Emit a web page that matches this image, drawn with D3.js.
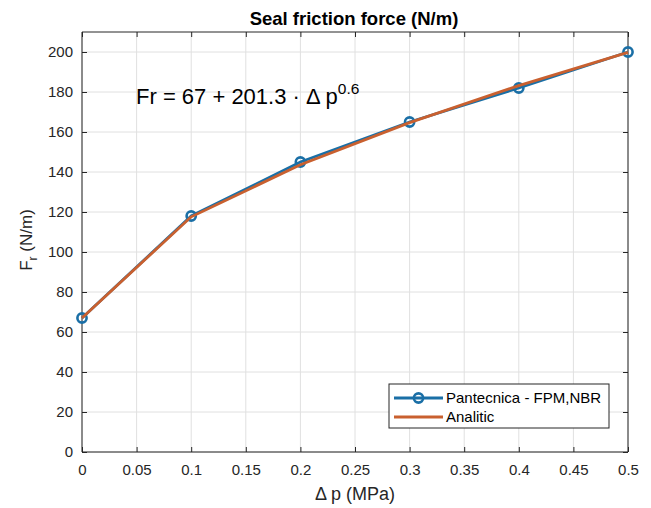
<!DOCTYPE html>
<html>
<head>
<meta charset="utf-8">
<script src="https://cdn.jsdelivr.net/npm/d3@7"></script>
<style>
  body { margin: 0; background: #fff; }
  text { font-family: "Liberation Sans", Arial, sans-serif; }
</style>
</head>
<body>
<script>
// data
var pressure = [0, 0.1, 0.2, 0.3, 0.4, 0.5];
var measured = [67, 118, 145, 165, 182, 200];     // Pantecnica - FPM,NBR
var analytic = [67, 117.6, 143.6, 164.7, 183.2, 199.8]; // Analitic
var xTicks = [0, 0.05, 0.1, 0.15, 0.2, 0.25, 0.3, 0.35, 0.4, 0.45, 0.5];
var yTicks = [0, 20, 40, 60, 80, 100, 120, 140, 160, 180, 200];
var seriesNames = ['Pantecnica - FPM,NBR', 'Analitic'];

var svgWidth = 651, svgHeight = 508;
var plotLeft = 82, plotRight = 628, plotTop = 32, plotBottom = 452;
var blue = '#1a6fa6', orange = '#c9602f';
var axisColor = '#262626';

var svg = d3.select('body').append('svg')
  .attr('width', svgWidth)
  .attr('height', svgHeight);

var x = d3.scaleLinear().domain([0, 0.5]).range([plotLeft, plotRight]);
var y = d3.scaleLinear().domain([0, 210]).range([plotBottom, plotTop]);

// grid
svg.selectAll('.vgrid').data(xTicks).enter().append('line')
  .attr('x1', function(d) { return x(d); }).attr('x2', function(d) { return x(d); })
  .attr('y1', plotTop).attr('y2', plotBottom)
  .attr('stroke', '#e0e0e0').attr('stroke-width', 1);
svg.selectAll('.hgrid').data(yTicks).enter().append('line')
  .attr('x1', plotLeft).attr('x2', plotRight)
  .attr('y1', function(d) { return y(d); }).attr('y2', function(d) { return y(d); })
  .attr('stroke', '#e0e0e0').attr('stroke-width', 1);

// axes (ticks inward, box on)
var xAxis = d3.axisBottom(x).tickValues(xTicks).tickSize(-5).tickPadding(12)
  .tickFormat(function(d) { return String(+d.toFixed(2)); });
var yAxis = d3.axisLeft(y).tickValues(yTicks).tickSize(-5).tickPadding(9);

var gx = svg.append('g').attr('transform', 'translate(0,' + plotBottom + ')').call(xAxis);
var gy = svg.append('g').attr('transform', 'translate(' + plotLeft + ',0)').call(yAxis);
var gxTop = svg.append('g').attr('transform', 'translate(0,' + plotTop + ')')
  .call(d3.axisTop(x).tickValues(xTicks).tickSize(-5).tickFormat(''));
var gyRight = svg.append('g').attr('transform', 'translate(' + plotRight + ',0)')
  .call(d3.axisRight(y).tickValues(yTicks).tickSize(-5).tickFormat(''));

[gx, gy, gxTop, gyRight].forEach(function(g) {
  g.select('.domain').attr('stroke', axisColor).attr('stroke-width', 1);
  g.selectAll('.tick line').attr('stroke', axisColor);
  g.selectAll('.tick text').attr('fill', axisColor).attr('font-size', '15px')
    .style('font-family', '"Liberation Sans", Arial, sans-serif');
});
// box sides without end caps
gxTop.select('.domain').attr('d', 'M' + plotLeft + ',0H' + plotRight);
gyRight.select('.domain').attr('d', 'M0,' + plotTop + 'V' + plotBottom);
gx.select('.domain').attr('d', 'M' + plotLeft + ',0H' + plotRight);
gy.select('.domain').attr('d', 'M0,' + plotTop + 'V' + plotBottom);

// lines
var line = d3.line()
  .x(function(d) { return x(d[0]); })
  .y(function(d) { return y(d[1]); });

svg.append('path')
  .datum(d3.zip(pressure, measured))
  .attr('d', line)
  .attr('fill', 'none').attr('stroke', blue).attr('stroke-width', 2.8);

svg.selectAll('.marker').data(d3.zip(pressure, measured)).enter().append('circle')
  .attr('cx', function(d) { return x(d[0]); })
  .attr('cy', function(d) { return y(d[1]); })
  .attr('r', 4.6)
  .attr('fill', 'none').attr('stroke', blue).attr('stroke-width', 2.6);

svg.append('path')
  .datum(d3.zip(pressure, analytic))
  .attr('d', line)
  .attr('fill', 'none').attr('stroke', orange).attr('stroke-width', 2.8);

// title
svg.append('text')
  .attr('x', 354).attr('y', 25)
  .attr('text-anchor', 'middle')
  .attr('font-size', '18.5px').attr('font-weight', 'bold').attr('fill', '#000')
  .text('Seal friction force (N/m)');

// axis labels
svg.append('text')
  .attr('x', 355).attr('y', 500)
  .attr('text-anchor', 'middle')
  .attr('font-size', '18px').attr('fill', axisColor)
  .text('\u0394 p (MPa)');

var yl = svg.append('text')
  .attr('transform', 'translate(32,240)rotate(-90)')
  .attr('text-anchor', 'middle')
  .attr('font-size', '17px').attr('fill', axisColor);
yl.append('tspan').text('F');
yl.append('tspan').attr('font-size', '12px').attr('dy', 5).text('r');
yl.append('tspan').attr('dy', -5).text(' (N/m)');

// annotation
var ann = svg.append('text')
  .attr('x', 136).attr('y', 104)
  .attr('font-size', '22px').attr('fill', '#000');
ann.append('tspan').text('Fr = 67 + 201.3 \u00B7 \u0394 p');
ann.append('tspan').attr('font-size', '15.5px').attr('dy', -10).text('0.6');

// legend
var lg = svg.append('g');
lg.append('rect')
  .attr('x', 389).attr('y', 384).attr('width', 220).attr('height', 44)
  .attr('fill', '#fff').attr('stroke', axisColor).attr('stroke-width', 1);
var legendRows = [
  { name: seriesNames[0], color: blue, marker: true, dy: 14 },
  { name: seriesNames[1], color: orange, marker: false, dy: 33 }
];
legendRows.forEach(function(r) {
  var ry = 384 + r.dy;
  lg.append('line')
    .attr('x1', 394).attr('x2', 443).attr('y1', ry).attr('y2', ry)
    .attr('stroke', r.color).attr('stroke-width', 2.8);
  if (r.marker) {
    lg.append('circle').attr('cx', 418.5).attr('cy', ry).attr('r', 4.6)
      .attr('fill', 'none').attr('stroke', r.color).attr('stroke-width', 2.6);
  }
  lg.append('text')
    .attr('x', 446).attr('y', ry + 5)
    .attr('font-size', '15px').attr('fill', '#000')
    .text(r.name);
});
</script>
</body>
</html>
